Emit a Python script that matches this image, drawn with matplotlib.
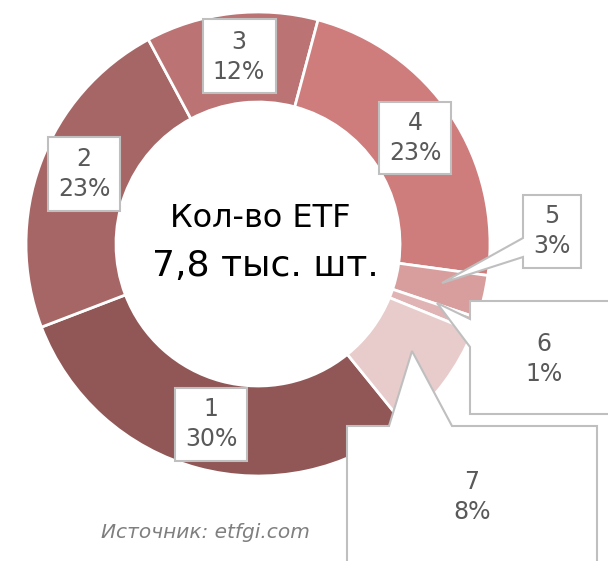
import matplotlib
matplotlib.use('Agg')
import matplotlib.pyplot as plt
from matplotlib.patches import Polygon

# data
categories = ['1', '2', '3', '4', '5', '6', '7']
shares = [30, 23, 12, 23, 3, 1, 8]
colors = ['#915757', '#A76666', '#BB7373', '#CE7C7C', '#D89E9E', '#E0B4B4', '#E8CCCC']
center_title = 'Кол-во ETF'
center_value = '7,8 тыс. шт.'
source = 'Источник: etfgi.com'

W, H = 608, 561
fig = plt.figure(figsize=(W / 100, H / 100), dpi=100)
ax = fig.add_axes([0, 0, 1, 1])

def py(y):
    # pixel row (from top) -> data y
    return H - y

cx, cy, R = 258, 244, 232
ax.pie(shares, colors=colors, startangle=-51, counterclock=False,
       center=(cx, py(cy)), radius=R, frame=True,
       wedgeprops=dict(width=90, edgecolor='white', linewidth=2))
ax.set_xlim(0, W)
ax.set_ylim(0, H)
ax.set_aspect('equal')
ax.axis('off')

ax.text(cx + 2, py(218), center_title, ha='center', va='center', fontsize=23, color='black')
ax.text(cx + 7, py(266), center_value, ha='center', va='center', fontsize=26, color='black')

# label boxes / callouts (pixel coords, y from top)
shapes = [
    [(175, 388), (247, 388), (247, 461), (175, 461)],
    [(48, 137), (120, 137), (120, 211), (48, 211)],
    [(203, 19), (276, 19), (276, 93), (203, 93)],
    [(379, 102), (451, 102), (451, 174), (379, 174)],
    [(523, 195), (581, 195), (581, 268), (523, 268), (523, 257), (442, 283), (523, 238)],
    [(470, 301), (615, 301), (615, 414), (470, 414), (470, 347), (437, 303), (470, 319)],
    [(347, 426), (389, 426), (412, 351), (452, 426), (597, 426), (597, 570), (347, 570)],
]
text_pos = [(211, 424), (84, 174), (239, 57), (415, 138), (552, 231), (544, 359), (472, 497)]

for cat, val, shp, (tx, ty) in zip(categories, shares, shapes, text_pos):
    poly = Polygon([(x, py(y)) for x, y in shp], closed=True, facecolor='white',
                   edgecolor='#BFBFBF', linewidth=1.5, zorder=5)
    ax.add_patch(poly)
    ax.text(tx, py(ty), f'{cat}\n{val}%', ha='center', va='center', fontsize=17,
            color='#595959', zorder=6, linespacing=1.35)

ax.text(205, py(533), source, ha='center', va='center', fontsize=14.5,
        style='italic', color='#7F7F7F')

plt.savefig('out.png', dpi=100)
